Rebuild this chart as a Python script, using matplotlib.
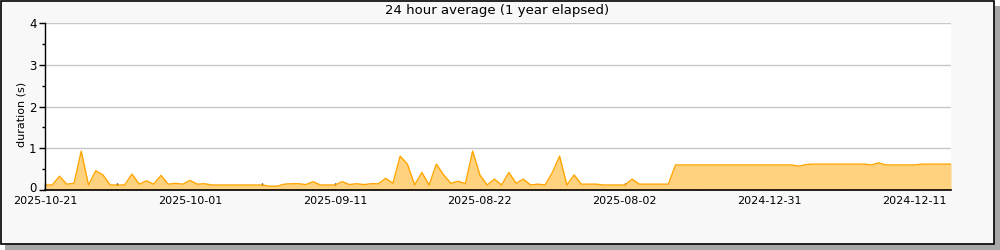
import matplotlib
matplotlib.use("Agg")
import matplotlib.pyplot as plt
import matplotlib.transforms as mtransforms
from matplotlib.patches import Rectangle
import numpy as np

# 24 hour average duration (s), one value per day, newest first
values = [
    0.12, 0.12, 0.33, 0.14, 0.16, 0.93, 0.12, 0.46, 0.36, 0.12,
    0.12, 0.12, 0.38, 0.14, 0.22, 0.14, 0.35, 0.14, 0.16, 0.14,
    0.23, 0.14, 0.15, 0.12, 0.12, 0.12, 0.12, 0.12, 0.12, 0.12,
    0.12, 0.09, 0.09, 0.14, 0.15, 0.15, 0.13, 0.20, 0.12, 0.12,
    0.12, 0.20, 0.13, 0.15, 0.13, 0.15, 0.15, 0.28, 0.16, 0.81,
    0.62, 0.12, 0.42, 0.12, 0.62, 0.36, 0.16, 0.21, 0.15, 0.93,
    0.36, 0.12, 0.26, 0.12, 0.42, 0.16, 0.26, 0.12, 0.14, 0.12,
    0.42, 0.81, 0.12, 0.36, 0.14, 0.14, 0.14, 0.12, 0.12, 0.12,
    0.12, 0.26, 0.14, 0.14, 0.14, 0.14, 0.14, 0.60, 0.60, 0.60,
    0.60, 0.60, 0.60, 0.60, 0.60, 0.60, 0.60, 0.60, 0.60, 0.60,
    0.60, 0.60, 0.60, 0.60, 0.57, 0.61, 0.62, 0.62, 0.62, 0.62,
    0.62, 0.62, 0.62, 0.62, 0.60, 0.65, 0.60, 0.60, 0.60, 0.60,
    0.60, 0.62, 0.62, 0.62, 0.62, 0.62,
]
tick_days = [0, 20, 40, 60, 80, 100, 120]
tick_labels = ["2025-10-21", "2025-10-01", "2025-09-11", "2025-08-22",
               "2025-08-02", "2024-12-31", "2024-12-11"]

days = np.arange(len(values))

fig = plt.figure(figsize=(10, 2.5), dpi=100, facecolor="white")

# Shadow and framed box
fig.patches.append(Rectangle((0.005, 0.0), 0.995, 0.975, transform=fig.transFigure,
                             facecolor="#a8a8a8", edgecolor="none", zorder=-3))
fig.patches.append(Rectangle((0.0005, 0.026), 0.9935, 0.972, transform=fig.transFigure,
                             facecolor="#f8f8f8", edgecolor="black", linewidth=1.2, zorder=-2))

ax = fig.add_axes([0.045, 0.24, 0.906, 0.668])
ax.set_facecolor("white")

ax.fill_between(days, values, 0, color="#ffd280", linewidth=0)
ax.plot(days, values, color="#ffa500", linewidth=1)

ax.set_xlim(0, 125)
ax.set_ylim(0, 4)

ax.set_xticks(tick_days)
ax.set_xticklabels(tick_labels)
ax.set_xticks(np.arange(10, 125, 20), minor=True)
ax.set_yticks([0, 1, 2, 3, 4])
ax.set_yticks(np.arange(0.5, 4, 1.0), minor=True)

ax.tick_params(axis="x", which="both", direction="in", length=5, width=1,
               labelsize=8, pad=4)
ax.tick_params(axis="y", which="major", direction="out", length=4, width=1,
               labelsize=8.5, pad=2)
ax.tick_params(axis="y", which="minor", direction="out", length=2, width=1)

# nudge the "0" label up a little so it clears the first date label
zero_label = ax.get_yticklabels()[0]
zero_label.set_transform(zero_label.get_transform() +
                         mtransforms.ScaledTranslation(0, 2 / 72, fig.dpi_scale_trans))

ax.grid(axis="y", which="major", color="#c8c8c8", linewidth=1)
ax.set_axisbelow(True)

for side in ["top", "right"]:
    ax.spines[side].set_visible(False)
ax.spines["left"].set_linewidth(1)
ax.spines["bottom"].set_linewidth(1.2)

ax.set_ylabel("duration (s)", fontsize=8)
ax.yaxis.set_label_coords(-0.02, 0.45)
fig.text(0.497, 0.958, "24 hour average (1 year elapsed)", ha="center", va="center",
         fontsize=9.5)

plt.savefig("out.png", dpi=100, facecolor=fig.get_facecolor())
plt.close()
